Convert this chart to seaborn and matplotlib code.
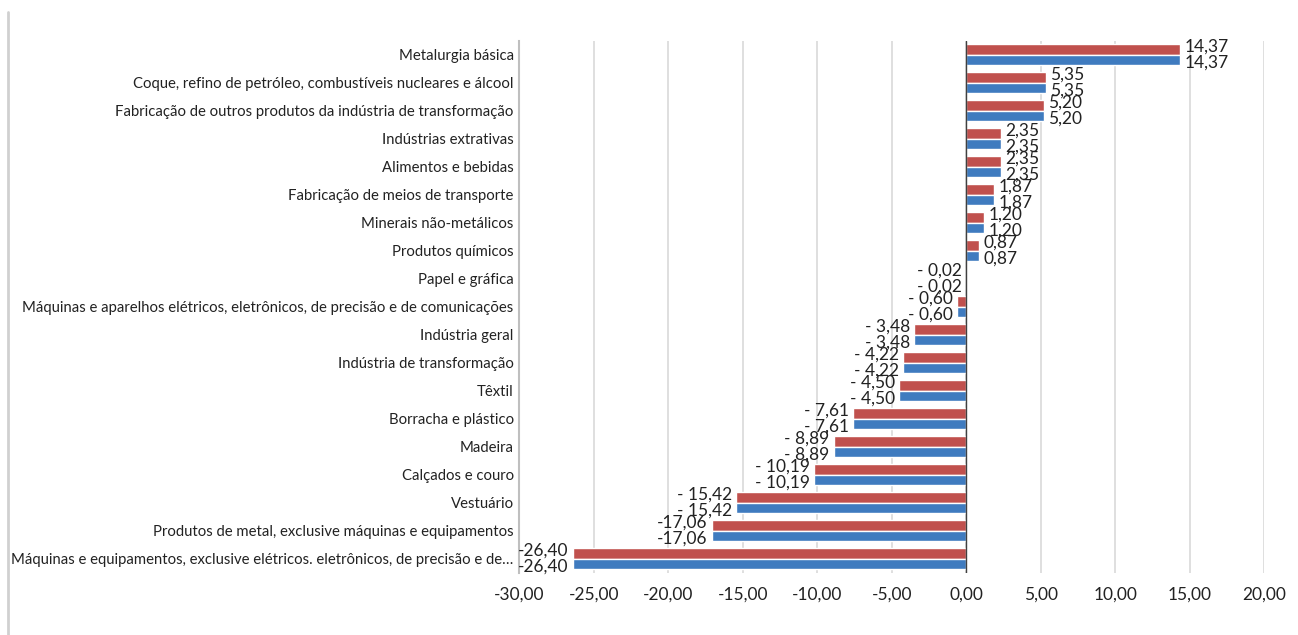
import matplotlib
matplotlib.use("Agg")
import matplotlib.pyplot as plt
from matplotlib.lines import Line2D
import seaborn as sns
import pandas as pd

# Setores e variação (%) – as duas séries têm os mesmos valores
setores = [
    "Metalurgia básica",
    "Coque, refino de petróleo, combustíveis nucleares e álcool",
    "Fabricação de outros produtos da indústria de transformação",
    "Indústrias extrativas",
    "Alimentos e bebidas",
    "Fabricação de meios de transporte",
    "Minerais não-metálicos",
    "Produtos químicos",
    "Papel e gráfica",
    "Máquinas e aparelhos elétricos, eletrônicos, de precisão e de comunicações",
    "Indústria geral",
    "Indústria de transformação",
    "Têxtil",
    "Borracha e plástico",
    "Madeira",
    "Calçados e couro",
    "Vestuário",
    "Produtos de metal, exclusive máquinas e equipamentos",
    "Máquinas e equipamentos, exclusive elétricos. eletrônicos, de precisão e de…",
]
serie_vermelha = [14.37, 5.35, 5.20, 2.35, 2.35, 1.87, 1.20, 0.87, -0.02, -0.60,
                  -3.48, -4.22, -4.50, -7.61, -8.89, -10.19, -15.42, -17.06, -26.40]
serie_azul = [14.37, 5.35, 5.20, 2.35, 2.35, 1.87, 1.20, 0.87, -0.02, -0.60,
              -3.48, -4.22, -4.50, -7.61, -8.89, -10.19, -15.42, -17.06, -26.40]
nomes_series = ["Série 1", "Série 2"]
ticks_x = [-30, -25, -20, -15, -10, -5, 0, 5, 10, 15, 20]

VERMELHO = "#C0504D"
AZUL = "#3F7BBF"

df = pd.DataFrame({
    "setor": setores * 2,
    "valor": serie_vermelha + serie_azul,
    "serie": [nomes_series[0]] * len(setores) + [nomes_series[1]] * len(setores),
})

sns.set_theme(style="white")
plt.rcParams["font.family"] = ["Lato", "DejaVu Sans"]

fig = plt.figure(figsize=(12.98, 6.35), dpi=100)
ax = fig.add_axes([0.400, 0.0984, 0.574, 0.8376])

sns.barplot(data=df, y="setor", x="valor", hue="serie", order=setores,
            hue_order=nomes_series, palette=[VERMELHO, AZUL], orient="h",
            width=0.75, saturation=1, legend=False, ax=ax)


def rotulo(v):
    txt = f"{abs(v):.2f}".replace(".", ",")
    if v < 0:
        return ("- " if abs(v) < 16 else "-") + txt
    return txt


# Rótulos de dados: série de cima um pouco acima, série de baixo um pouco abaixo
deslocamento_y = [2.0, -2.0]
for cont, dy in zip(ax.containers, deslocamento_y):
    for barra in cont:
        v = barra.get_width()
        yc = barra.get_y() + barra.get_height() / 2
        dx = 3 if v >= 0 else -3
        ax.annotate(rotulo(v), xy=(v, yc), xytext=(dx, dy),
                    textcoords="offset points",
                    ha="left" if v >= 0 else "right", va="center",
                    fontsize=12.5, color="#222222")

ax.set_xlim(-30, 20)
ax.set_xticks(ticks_x)
ax.set_xticklabels([f"{t:.2f}".replace(".", ",") for t in ticks_x])
ax.set_ylim(len(setores) - 0.5, -0.5)
ax.set_xlabel("")
ax.set_ylabel("")

ax.grid(axis="x", color="#D9D9D9", linewidth=1.2)
ax.set_axisbelow(True)
ax.axvline(0, color="#404040", linewidth=1.0, zorder=3)

for s in ["top", "right", "bottom"]:
    ax.spines[s].set_visible(False)
ax.spines["left"].set_color("#BFBFBF")
ax.spines["left"].set_linewidth(1.5)

ax.tick_params(axis="y", length=0, pad=4, labelsize=10.7, labelcolor="#222222")
ax.tick_params(axis="x", length=0, pad=10, labelsize=12.5, labelcolor="#222222")

# Borda esquerda do quadro do gráfico
fig.add_artist(Line2D([8 / 1298, 8 / 1298], [0, 1 - 12 / 635],
                      transform=fig.transFigure, color="#D0D0D0", linewidth=2))

fig.savefig("out.png", dpi=100)
